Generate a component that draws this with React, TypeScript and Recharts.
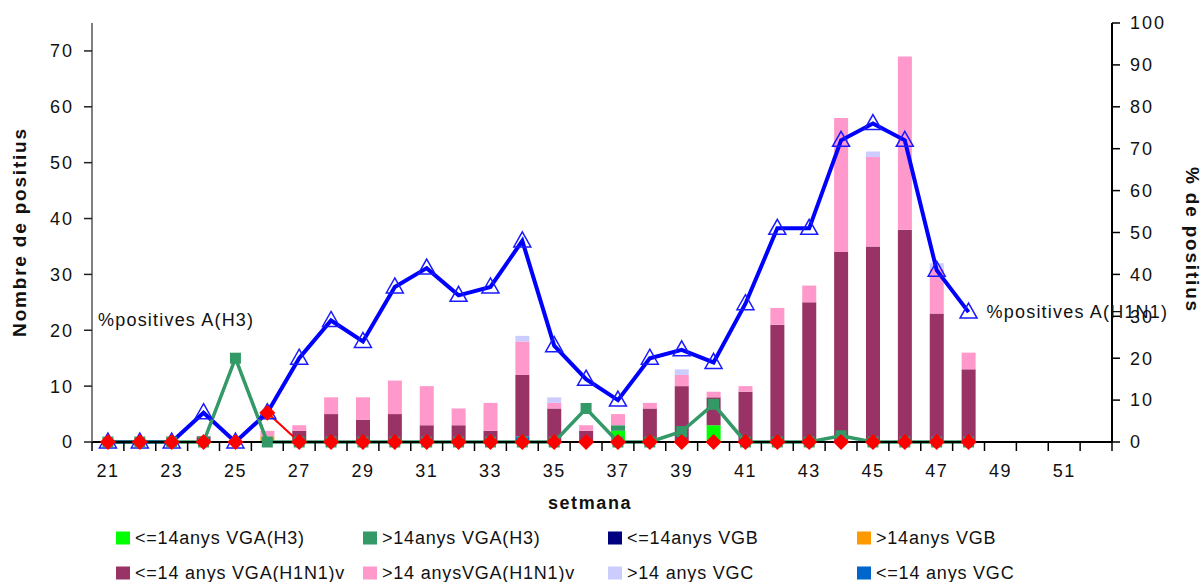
import React from "react";
import { ComposedChart, Bar, Line, XAxis, YAxis, LabelList } from "recharts";

const FONT = "'Liberation Sans', Arial, sans-serif";

// setmana (weeks 21..52)
const WEEKS = [21, 22, 23, 24, 25, 26, 27, 28, 29, 30, 31, 32, 33, 34, 35, 36, 37, 38, 39, 40, 41, 42, 43, 44, 45, 46, 47, 48, 49, 50, 51, 52];
const WEEK_LABELS = [21, 23, 25, 27, 29, 31, 33, 35, 37, 39, 41, 43, 45, 47, 49, 51];

// bars: nombre de positius (left axis)
const H3_U14 = [0, 0, 0, 0, 0, 0, 0, 0, 0, 0, 0, 0, 0, 0, 0, 0, 2, 0, 0, 3, 0, 0, 0, 0, 0, 0, 0, 0, null, null, null, null];
const H3_O14 = [0, 0, 0, 0, 0, 0, 0, 0, 0, 0, 0, 0, 0, 0, 0, 0, 1, 0, 0, 0, 0, 0, 0, 0, 0, 0, 0, 0, null, null, null, null];
const VGB_U14 = [0, 0, 0, 0, 0, 0, 0, 0, 0, 0, 0, 0, 0, 0, 0, 0, 0, 0, 0, 0, 0, 0, 0, 0, 0, 0, 0, 0, null, null, null, null];
const VGB_O14 = [0, 0, 0, 0, 0, 1, 0, 0, 0, 0, 0, 0, 0, 0, 0, 0, 0, 0, 0, 0, 0, 0, 0, 0, 0, 0, 0, 0, null, null, null, null];
const VGC_U14 = [0, 0, 0, 0, 0, 0, 0, 0, 0, 0, 0, 0, 0, 1, 0, 0, 0, 0, 0, 0, 0, 0, 0, 0, 0, 0, 0, 0, null, null, null, null];
const H1N1_U14 = [0, 0, 0, 1, 0, 0, 2, 5, 4, 5, 3, 3, 2, 11, 6, 2, 0, 6, 10, 5, 9, 21, 25, 34, 35, 38, 23, 13, null, null, null, null];
const H1N1_O14 = [0, 0, 0, 0, 0, 1, 1, 3, 4, 6, 7, 3, 5, 6, 1, 1, 2, 1, 2, 1, 1, 3, 3, 24, 16, 31, 8, 3, null, null, null, null];
const VGC_O14 = [0, 0, 0, 0, 0, 0, 0, 0, 0, 0, 0, 0, 0, 1, 1, 0, 0, 0, 1, 0, 0, 0, 0, 0, 1, 0, 1, 0, null, null, null, null];

// lines: % de positius (right axis)
const PCT_H1N1 = [0, 0, 0, 7, 0, 7, 20, 29, 24, 37, 41.5, 35, 37, 48, 23, 15, 10, 20, 22, 19, 33, 51, 51, 72, 76, 72, 41, 31, null, null, null, null];
const PCT_H3 = [0, 0, 0, 0, 20, 0, 0, 0, 0, 0, 0, 0, 0, 0, 0, 8, 0, 0, 2.5, 9, 0, 0, 0, 1.5, 0, 0, 0, 0, null, null, null, null];
const PCT_OTHER = [0, 0, 0, 0, 0, 7, 0, 0, 0, 0, 0, 0, 0, 0, 0, 0, 0, 0, 0, 0, 0, 0, 0, 0, 0, 0, 0, 0, null, null, null, null];

const LEFT_TICKS = [0, 10, 20, 30, 40, 50, 60, 70];
const RIGHT_TICKS = [0, 10, 20, 30, 40, 50, 60, 70, 80, 90, 100];

const data = WEEKS.map((w, i) => ({
  week: w,
  h3u14: H3_U14[i],
  h3o14: H3_O14[i],
  vgbu14: VGB_U14[i],
  vgbo14: VGB_O14[i],
  vgcu14: VGC_U14[i],
  h1u14: H1N1_U14[i],
  h1o14: H1N1_O14[i],
  vgco14: VGC_O14[i],
  pctH1: PCT_H1N1[i],
  pctH3: PCT_H3[i],
  pctOther: PCT_OTHER[i],
}));

const LEGEND = [
  { name: "<=14anys VGA(H3)", color: "#00ff00" },
  { name: ">14anys VGA(H3)", color: "#339966" },
  { name: "<=14anys VGB", color: "#000080" },
  { name: ">14anys VGB", color: "#ff9900" },
  { name: "<=14 anys VGA(H1N1)v", color: "#993366" },
  { name: ">14 anysVGA(H1N1)v", color: "#ff99cc" },
  { name: ">14 anys VGC", color: "#ccccff" },
  { name: "<=14 anys VGC", color: "#0066cc" },
];
const LEGEND_LEFTS = [116, 363, 608, 857];

const W = 1204;
const PLOT_W = 1020;
const BAND = PLOT_W / WEEKS.length;

const WeekTick = (p: any) => {
  const { x, y, payload, index } = p;
  const w = payload.value;
  return (
    <g>
      {index === 0 && <line x1={x - BAND / 2} x2={x - BAND / 2} y1={y} y2={y + 9} stroke="#000" strokeWidth={1.5} />}
      <line x1={x + BAND / 2} x2={x + BAND / 2} y1={y} y2={y + 9} stroke="#000" strokeWidth={1.5} />
      {WEEK_LABELS.includes(w) && (
        <text x={x} y={y + 35} textAnchor="middle" fontSize={18} fill="#111" fontFamily={FONT} letterSpacing={1.5}>
          {w}
        </text>
      )}
    </g>
  );
};

const Triangle = (p: any) => {
  const { cx, cy, value } = p;
  if (value == null || cx == null || cy == null) return <g key={p.key} />;
  return (
    <path key={p.key} d={`M${cx},${cy - 9} L${cx + 8.5},${cy + 6} L${cx - 8.5},${cy + 6} Z`} fill="none" stroke="#1a1aff" strokeWidth={1.5} />
  );
};

const Diamond = (p: any) => {
  const { cx, cy, value } = p;
  if (value == null || cx == null || cy == null) return <g key={p.key} />;
  return <path key={p.key} d={`M${cx},${cy - 8} L${cx + 8},${cy} L${cx},${cy + 8} L${cx - 8},${cy} Z`} fill="#ff0000" />;
};

const Square = (p: any) => {
  const { cx, cy, value } = p;
  if (value == null || cx == null || cy == null) return <g key={p.key} />;
  return <rect key={p.key} x={cx - 5.5} y={cy - 5.5} width={11} height={11} fill="#339966" />;
};

const H1N1Label = (p: any) => {
  if (p.index !== 27) return null;
  return (
    <text x={p.x + 18} y={p.y + 6} fontSize={18} fill="#111" fontFamily={FONT} letterSpacing={1.2}>
      %positives A(H1N1)
    </text>
  );
};

const tickStyle = { fill: "#111", fontSize: 18, fontFamily: FONT, letterSpacing: 2 };

export default function App() {
  return (
    <div style={{ position: "absolute", left: 0, top: 0, width: W, height: 582, fontFamily: FONT, color: "#111", background: "#fff" }}>
      <ComposedChart width={W} height={500} data={data} margin={{ top: 23, right: 32, bottom: 8, left: 32 }} barSize={14}>
        <XAxis
          dataKey="week"
          xAxisId={0}
          interval={0}
          tickSize={0}
          tickMargin={0}
          tick={<WeekTick />}
          axisLine={{ stroke: "#000", strokeWidth: 2 }}
          tickLine={false}
          height={50}
        />
        <YAxis
          yAxisId="left"
          domain={[0, 75]}
          ticks={LEFT_TICKS}
          width={60}
          tickSize={8}
          tickMargin={10}
          tick={tickStyle}
          axisLine={{ stroke: "#555", strokeWidth: 1.5 }}
          tickLine={{ stroke: "#222", strokeWidth: 1.5 }}
        />
        <YAxis
          yAxisId="right"
          orientation="right"
          domain={[0, 100]}
          ticks={RIGHT_TICKS}
          width={60}
          tickSize={8}
          tickMargin={10}
          tick={{ ...tickStyle, textAnchor: "start" }}
          axisLine={{ stroke: "#000", strokeWidth: 2 }}
          tickLine={{ stroke: "#000", strokeWidth: 1.5 }}
        />
        <Bar dataKey="h3u14" stackId="a" yAxisId="left" fill="#00ff00" isAnimationActive={false} />
        <Bar dataKey="h3o14" stackId="a" yAxisId="left" fill="#339966" isAnimationActive={false} />
        <Bar dataKey="vgbu14" stackId="a" yAxisId="left" fill="#000080" isAnimationActive={false} />
        <Bar dataKey="vgbo14" stackId="a" yAxisId="left" fill="#ff9900" isAnimationActive={false} />
        <Bar dataKey="vgcu14" stackId="a" yAxisId="left" fill="#0066cc" isAnimationActive={false} />
        <Bar dataKey="h1u14" stackId="a" yAxisId="left" fill="#993366" isAnimationActive={false} />
        <Bar dataKey="h1o14" stackId="a" yAxisId="left" fill="#ff99cc" isAnimationActive={false} />
        <Bar dataKey="vgco14" stackId="a" yAxisId="left" fill="#ccccff" isAnimationActive={false} />
        <Line type="linear" dataKey="pctOther" yAxisId="right" stroke="#ff0000" strokeWidth={2} dot={false} activeDot={false} isAnimationActive={false} />
        <Line type="linear" dataKey="pctH1" yAxisId="right" stroke="#0000ff" strokeWidth={4} dot={<Triangle />} activeDot={false} isAnimationActive={false}>
          <LabelList dataKey="pctH1" content={<H1N1Label />} />
        </Line>
        <Line type="linear" dataKey="pctH3" yAxisId="right" stroke="#339966" strokeWidth={3.5} dot={<Square />} activeDot={false} isAnimationActive={false} />
        <Line type="linear" dataKey="pctOther" yAxisId="right" stroke="none" strokeWidth={0} dot={<Diamond />} activeDot={false} isAnimationActive={false} />
      </ComposedChart>

      <div style={{ position: "absolute", left: 98, top: 309, fontSize: 18, letterSpacing: 1.2, lineHeight: "22px", whiteSpace: "nowrap" }}>
        %positives A(H3)
      </div>

      <div style={{ position: "absolute", left: 20, top: 232, transform: "translate(-50%, -50%) rotate(-90deg)", fontSize: 19, fontWeight: "bold", letterSpacing: 1.8, whiteSpace: "nowrap" }}>
        Nombre de positius
      </div>
      <div style={{ position: "absolute", left: 1192, top: 240, transform: "translate(-50%, -50%) rotate(90deg)", fontSize: 19, fontWeight: "bold", letterSpacing: 1.8, whiteSpace: "nowrap" }}>
        % de positius
      </div>
      <div style={{ position: "absolute", left: 590, top: 503, transform: "translate(-50%, -50%)", fontSize: 18, fontWeight: "bold", letterSpacing: 1.6, whiteSpace: "nowrap" }}>
        setmana
      </div>

      {LEGEND.map((item, i) => {
        const col = i % 4;
        const row = Math.floor(i / 4);
        return (
          <div
            key={item.name}
            style={{ position: "absolute", left: LEGEND_LEFTS[col], top: 538 + row * 35, transform: "translateY(-50%)", display: "flex", alignItems: "center", fontSize: 18, letterSpacing: 0.8, whiteSpace: "nowrap" }}
          >
            <span style={{ display: "inline-block", width: 14, height: 13, background: item.color, marginRight: 5 }} />
            {item.name}
          </div>
        );
      })}
    </div>
  );
}
